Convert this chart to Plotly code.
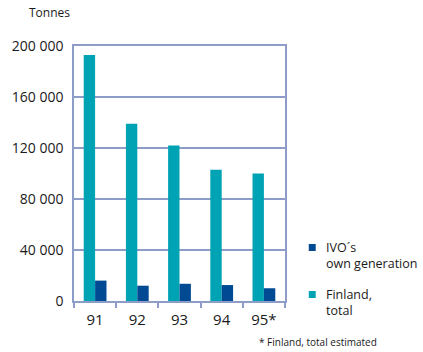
import plotly.graph_objects as go

# Annual quantities, tonnes
years = ["91", "92", "93", "94", "95*"]
finland_total = [193000, 139000, 122000, 103000, 100000]
ivo_own = [16000, 12000, 13500, 12500, 10000]

y_tick_vals = [0, 40000, 80000, 120000, 160000, 200000]
y_tick_text = ["0", "40 000", "80 000", "120 000", "160 000", "200 000"]

TEAL = "#00a3b4"
BLUE = "#004a93"
FRAME = "#8e9cc8"
TEXT = "#1a1a1a"
FONT = "Open Sans"

fig = go.Figure()
fig.add_trace(go.Bar(x=years, y=finland_total, name="Finland, total",
                     marker=dict(color=TEAL, line=dict(width=0))))
fig.add_trace(go.Bar(x=years, y=ivo_own, name="IVO´s own generation",
                     marker=dict(color=BLUE, line=dict(width=0))))

fig.update_layout(
    width=423, height=352,
    margin=dict(l=72, r=138, t=46, b=51),
    paper_bgcolor="white", plot_bgcolor="white",
    barmode="group", bargap=0.46, bargroupgap=0,
    showlegend=False,
    font=dict(family=FONT, color=TEXT, size=14),
)

fig.update_xaxes(
    type="category", showgrid=False,
    showline=True, linecolor=FRAME, linewidth=1.5, mirror=True,
    ticks="outside", tickson="boundaries", ticklen=5, tickcolor=FRAME, tickwidth=1.5,
    ticklabelstandoff=4,
    tickfont=dict(size=15, family=FONT, color=TEXT),
)
fig.update_yaxes(
    range=[0, 200000], tickvals=y_tick_vals, ticktext=y_tick_text,
    showgrid=True, gridcolor=FRAME, gridwidth=1.5,
    showline=True, linecolor=FRAME, linewidth=1.5, mirror=True,
    zeroline=False, ticks="", ticklabelstandoff=6,
    tickfont=dict(size=14, family=FONT, color=TEXT),
)

# Unit label above the value axis
fig.add_annotation(text="Tonnes", xref="paper", yref="paper", x=-0.225, y=1.09,
                   xanchor="left", yanchor="bottom", showarrow=False,
                   font=dict(size=12, family=FONT, color=TEXT))

# Legend: swatches and two-line labels
legend_rows = [
    (BLUE, "IVO´s<br>own generation", 247),
    (TEAL, "Finland,<br>total", 294),
]
for color, label, top in legend_rows:
    fig.add_shape(type="rect", xref="paper", yref="paper",
                  x0=(309 - 72) / 213, x1=(316 - 72) / 213,
                  y0=(301 - (top + 4)) / 255, y1=(301 - (top - 3)) / 255,
                  fillcolor=color, line=dict(width=0))
    fig.add_annotation(text=label, xref="paper", yref="paper",
                       x=(325 - 72) / 213, y=(301 - (top - 9)) / 255,
                       xanchor="left", yanchor="top", align="left",
                       showarrow=False, borderpad=0,
                       font=dict(size=12.5, family=FONT, color=TEXT))

# Footnote
fig.add_annotation(text="* Finland, total estimated", xref="paper", yref="paper",
                   x=(257 - 72) / 213, y=(301 - 342) / 255,
                   xanchor="left", yanchor="middle", showarrow=False,
                   font=dict(size=10, family=FONT, color=TEXT))

fig.write_html("out.html")
